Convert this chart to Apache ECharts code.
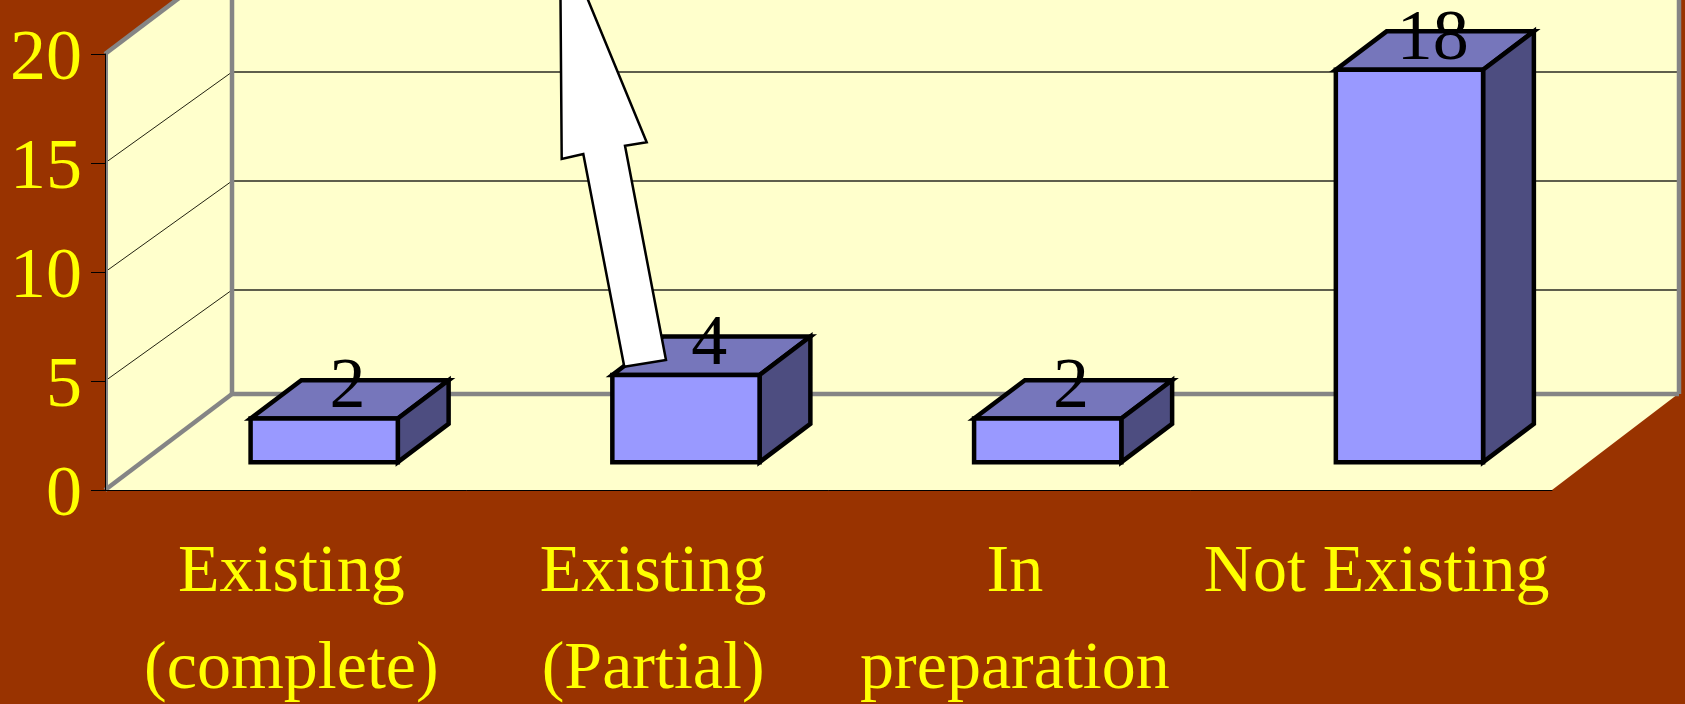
<!DOCTYPE html>
<html>
<head>
<meta charset="utf-8">
<title>Chart</title>
<script src="https://cdn.jsdelivr.net/npm/echarts@6/dist/echarts.min.js"></script>
<style>
  html, body { margin: 0; padding: 0; background: #993300; }
  #chart { width: 1685px; height: 704px; }
</style>
</head>
<body>
<div id="chart"></div>
<script>
// data
const categories = ['Existing\n(complete)', 'Existing\n(Partial)', 'In\npreparation', 'Not Existing']
const values = [2, 4, 2, 18]
const yTicks = [0, 5, 10, 15, 20]

// fake 3d projection, offset of the back wall from the front plane
const depthX = 127
const depthY = 96
const gridDepthY = 91
const barFront = 0.29
const barBack = 0.69
const serif = '"Liberation Serif", "Times New Roman", serif'

const poly = (points, fill, stroke, lineWidth) => ({
  type: 'polygon',
  shape: { points },
  style: { fill, stroke, lineWidth, lineJoin: 'miter' }
})
const line = (a, b, stroke, lineWidth) => ({
  type: 'line',
  shape: { x1: a[0], y1: a[1], x2: b[0], y2: b[1] },
  style: { stroke, lineWidth }
})

// walls and floor
const renderFrame = (params, api) => {
  const left = api.coord([0, 0])[0] - api.size([1, 0])[0] / 2
  const right = left + api.size([1, 0])[0] * categories.length
  const y0 = api.coord([0, 0])[1]
  const yTop = api.coord([0, yTicks[yTicks.length - 1]])[1]
  const wall = '#ffffcc'
  const edge = '#858585'
  const children = [
    poly([[left, y0], [left + depthX, y0 - depthY], [left + depthX, yTop - depthY], [left, yTop]], wall),
    poly([[left + depthX, y0 - depthY], [right + depthX - 1, y0 - depthY], [right + depthX - 1, yTop - depthY], [left + depthX, yTop - depthY]], wall),
    poly([[left, y0], [right, y0], [right + depthX - 1, y0 - depthY], [left + depthX, y0 - depthY]], wall)
  ]
  yTicks.slice(1, -1).forEach(v => {
    const y = api.coord([0, v])[1]
    children.push(line([left, y], [left + depthX, y - gridDepthY], '#222211', 1))
    children.push(line([left + depthX, y - gridDepthY], [right + depthX - 1, y - gridDepthY], '#5f5f4c', 2))
  })
  children.push(line([left, y0], [left + depthX, y0 - depthY], edge, 4.5))
  children.push(line([left, yTop], [left + depthX, yTop - depthY], edge, 4.5))
  children.push(line([left + 2, y0], [left + 2, yTop], edge, 2))
  children.push(line([left + depthX, y0 - depthY], [left + depthX, yTop - depthY], edge, 4.5))
  children.push(line([left + depthX, y0 - depthY], [right + depthX, y0 - depthY], edge, 4.5))
  children.push(line([right + depthX, y0 - depthY], [right + depthX, yTop - depthY], edge, 4.5))
  return { type: 'group', children }
}

// one box per category, with its value above the top face
const renderBar = (params, api) => {
  const base = api.coord([api.value(0), 0])
  const top = api.coord([api.value(0), api.value(1)])
  const w = api.size([1, 0])[0] * 0.407
  const x1 = base[0] - w / 2 + depthX * barFront + 1.5
  const x2 = x1 + w
  const yb = base[1] - depthY * barFront
  const yt = top[1] - depthY * barFront
  const dx = depthX * (barBack - barFront)
  const dy = depthY * (barBack - barFront)
  return {
    type: 'group',
    children: [
      poly([[x1, yt], [x2, yt], [x2 + dx, yt - dy], [x1 + dx, yt - dy]], '#7676bb', '#000', 4.5),
      poly([[x2, yt], [x2 + dx, yt - dy], [x2 + dx, yb - dy], [x2, yb]], '#4d4d80', '#000', 4.5),
      poly([[x1, yt], [x2, yt], [x2, yb], [x1, yb]], '#9999ff', '#000', 4.5),
      {
        type: 'text',
        z2: 10,
        style: {
          text: String(api.value(1)),
          x: x1 + w / 2 + dx / 2 - 2,
          y: yt - 30,
          fill: '#000',
          font: '72px ' + serif,
          textAlign: 'center',
          textVerticalAlign: 'middle'
        }
      }
    ]
  }
}

const chart = echarts.init(document.getElementById('chart'))
chart.setOption({
  backgroundColor: '#993300',
  animation: false,
  grid: { left: 105, right: 133, top: 54, bottom: 214, containLabel: false, outerBoundsMode: 'none' },
  xAxis: {
    type: 'category',
    data: categories,
    z: 10,
    axisLine: { lineStyle: { color: '#000', width: 1 } },
    axisTick: { length: 14, lineStyle: { color: '#000', width: 1 } },
    axisLabel: {
      color: '#ffff00',
      fontFamily: serif,
      fontSize: 68,
      lineHeight: 97,
      margin: 35,
      padding: [0, 0, 0, 11],
      interval: 0
    }
  },
  yAxis: {
    type: 'value',
    min: 0,
    max: 20,
    interval: 5,
    z: 10,
    axisLine: { show: true, lineStyle: { color: '#000', width: 1 } },
    axisTick: { show: true, length: 14, lineStyle: { color: '#000', width: 1 } },
    splitLine: { show: false },
    axisLabel: { color: '#ffff00', fontFamily: serif, fontSize: 72, margin: 23, verticalAlign: 'top', lineHeight: 12 }
  },
  series: [
    {
      type: 'custom',
      silent: true,
      z: 1,
      clip: false,
      data: [[0, 0]],
      renderItem: renderFrame
    },
    {
      type: 'custom',
      z: 3,
      clip: false,
      data: values.map((v, i) => [i, v]),
      encode: { x: 0, y: 1 },
      renderItem: renderBar
    }
  ],
  // callout arrow, runs off the top of the slide
  graphic: [
    {
      type: 'polygon',
      z: 100,
      shape: {
        points: [[624.3, 366.7], [666, 360], [625, 145.7], [646.7, 142.3], [560, -68], [561.7, 159], [583.3, 154]]
      },
      style: { fill: '#fff', stroke: '#000', lineWidth: 2.5, lineJoin: 'miter' }
    }
  ]
})
</script>
</body>
</html>
